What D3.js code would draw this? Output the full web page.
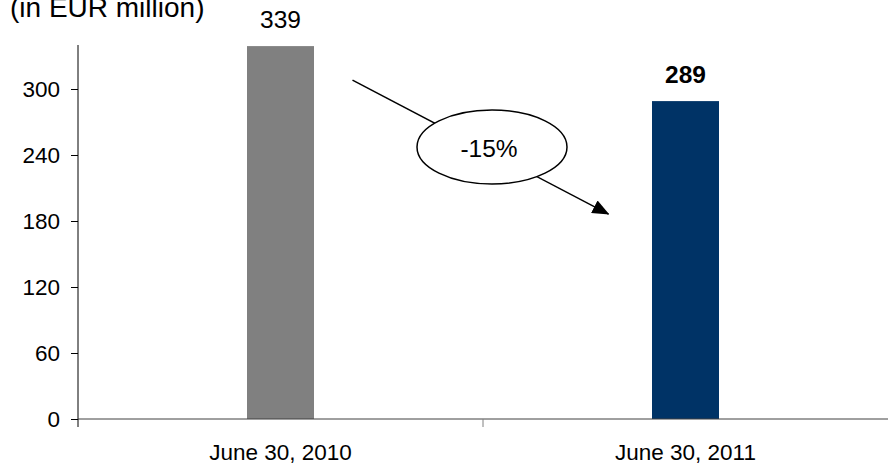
<!DOCTYPE html>
<html>
<head>
<meta charset="utf-8">
<script src="https://cdn.jsdelivr.net/npm/d3@7"></script>
<style>
html,body{margin:0;padding:0;background:#fff;}
svg{display:block;font-family:"Liberation Sans",Arial,sans-serif;}
</style>
</head>
<body>
<svg id="chart" width="888" height="464"></svg>
<script>
// Data
const categories = ["June 30, 2010", "June 30, 2011"];
const values = [339, 289];
const barColors = ["#808080", "#003366"];
const yTickValues = [0, 60, 120, 180, 240, 300];
const unitLabel = "(in EUR million)";
const changeLabel = "-15%";

(function () {
const svg = d3.select("#chart");
const mLeft = 78, mRight = 888, mTop = 45, mBottom = 419;

const x = d3.scaleBand().domain(categories).range([mLeft, mRight]).paddingInner(0).paddingOuter(0);
const y = d3.scaleLinear().domain([0, 340]).range([mBottom, mTop]);
const barW = 67;

// Title
svg.append("text").attr("x", 10).attr("y", 17)
  .attr("font-size", 28).attr("fill", "#000").text(unitLabel);

// Bars
svg.selectAll("rect.bar").data(values).join("rect")
  .attr("class", "bar")
  .attr("x", (d, i) => x(categories[i]) + x.bandwidth() / 2 - barW / 2)
  .attr("width", barW)
  .attr("y", d => y(d))
  .attr("height", d => y(0) - y(d))
  .attr("fill", (d, i) => barColors[i]);

// Value labels
svg.selectAll("text.val").data(values).join("text")
  .attr("class", "val")
  .attr("x", (d, i) => x(categories[i]) + x.bandwidth() / 2)
  .attr("y", d => y(d) - 18)
  .attr("text-anchor", "middle")
  .attr("font-size", 24.5)
  .attr("font-weight", (d, i) => i === 1 ? "bold" : "normal")
  .text(d => d);

// Y axis
const yAxis = svg.append("g").attr("transform", `translate(${mLeft},0)`)
  .call(d3.axisLeft(y).tickValues(yTickValues).tickSize(7).tickPadding(11).tickSizeOuter(0));
yAxis.select(".domain").attr("stroke", "#000").attr("d", `M0,${mTop}V${mBottom}`);
yAxis.selectAll(".tick line").attr("stroke", "#000");
yAxis.selectAll(".tick text")
  .attr("font-size", 22.5).attr("fill", "#000")
  .attr("font-family", "Liberation Sans, Arial, sans-serif");

// X axis
const xEdges = [mLeft, x(categories[1])];
const xAxisG = svg.append("g");
xAxisG.append("line").attr("x1", mLeft).attr("x2", mRight).attr("y1", mBottom).attr("y2", mBottom).attr("stroke", "#404040");
xAxisG.selectAll("line.xt").data(xEdges).join("line")
  .attr("class", "xt")
  .attr("x1", d => d).attr("x2", d => d).attr("y1", mBottom).attr("y2", mBottom + 8)
  .attr("stroke", d => d === mLeft ? "#000" : "#808080");
xAxisG.selectAll("text.xl").data(categories).join("text")
  .attr("class", "xl")
  .attr("x", d => x(d) + x.bandwidth() / 2)
  .attr("y", 460)
  .attr("text-anchor", "middle")
  .attr("font-size", 22.5)
  .text(d => d);

// Arrow annotation
const defs = svg.append("defs");
defs.append("marker").attr("id", "arr").attr("viewBox", "0 0 17 14")
  .attr("refX", 16).attr("refY", 7).attr("markerWidth", 17).attr("markerHeight", 14)
  .attr("markerUnits", "userSpaceOnUse").attr("orient", "auto")
  .append("path").attr("d", "M0,0L17,7L0,14Z").attr("fill", "#000");
const ax1 = x(categories[0]) + x.bandwidth() / 2 + 72, ay1 = y(values[0]) + 34;
const ax2 = x(categories[1]) + x.bandwidth() / 2 - 77, ay2 = y(values[1]) + 113;
svg.append("line").attr("x1", ax1).attr("y1", ay1).attr("x2", ax2).attr("y2", ay2)
  .attr("stroke", "#000").attr("stroke-width", 1.5)
  .attr("marker-end", "url(#arr)");
const ecx = 492, ecy = 147;
svg.append("ellipse").attr("cx", ecx).attr("cy", ecy).attr("rx", 75).attr("ry", 37)
  .attr("fill", "#fff").attr("stroke", "#000").attr("stroke-width", 1.5);
svg.append("text").attr("x", ecx - 3).attr("y", ecy + 10)
  .attr("text-anchor", "middle")
  .attr("font-size", 24.5).text(changeLabel);
})();
</script>
</body>
</html>
